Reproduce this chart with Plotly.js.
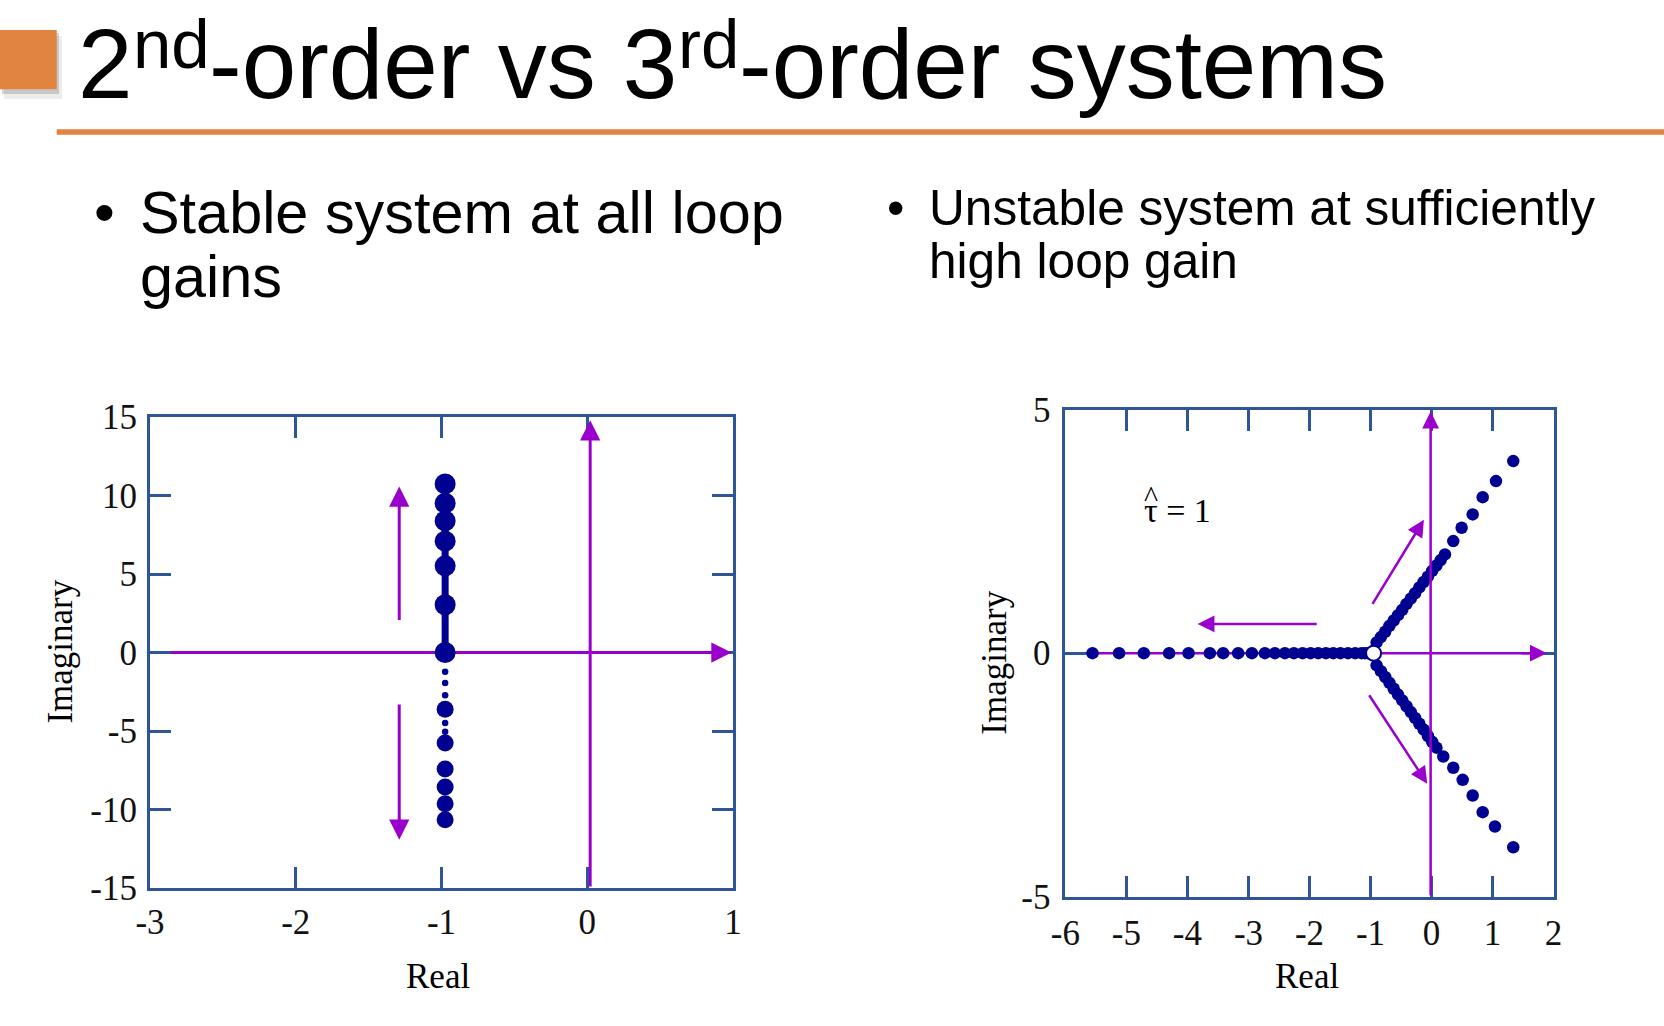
<!DOCTYPE html>
<html><head><meta charset="utf-8">
<script src="https://cdn.plot.ly/plotly-3.0.1.min.js"></script>
<style>html,body{margin:0;padding:0;background:#fff;}#chart{width:1664px;height:1026px;}</style>
</head><body><div id="chart"></div>
<script>
// ---------- Left chart: 2nd-order root locus ----------
const secondOrderBranchReal = -0.975;
const secondOrderUpperImag = [0, 3.04, 5.52, 7.09, 8.38, 9.51, 10.74];
const secondOrderLowerLargeImag = [-3.61, -5.77, -7.42, -8.57, -9.63, -10.65];
const secondOrderLowerSmallImag = [-1.23, -1.95, -2.72, -4.49, -5.05];

// ---------- Right chart: 3rd-order root locus ----------
const thirdOrderRealBranchX = [-5.556, -5.120, -4.715, -4.300, -3.982, -3.633, -3.415, -3.169, -2.944, -2.731,
  -2.567, -2.403, -2.256, -2.113, -1.982, -1.857, -1.731, -1.611, -1.493, -1.370, -1.251, -1.146, -1.09, -1.04];
const thirdOrderUpperX = [-0.90, -0.83, -0.76, -0.69, -0.62, -0.55, -0.48, -0.41, -0.34, -0.27, -0.20, -0.13, -0.06, 0.01, 0.08, 0.15,
  0.220, 0.356, 0.493, 0.674, 0.838, 1.056, 1.339];
const thirdOrderUpperY = [0.22, 0.33, 0.44, 0.56, 0.67, 0.78, 0.89, 1.01, 1.12, 1.23, 1.35, 1.46, 1.57, 1.69, 1.80, 1.91,
  2.027, 2.300, 2.575, 2.848, 3.203, 3.532, 3.943];
const thirdOrderLowerX = [-0.90, -0.83, -0.76, -0.69, -0.62, -0.55, -0.48, -0.41, -0.34, -0.27, -0.20, -0.13, -0.06, 0.01, 0.08,
  0.192, 0.356, 0.510, 0.674, 0.838, 1.039, 1.339];
const thirdOrderLowerY = [-0.25, -0.37, -0.49, -0.61, -0.73, -0.85, -0.97, -1.09, -1.21, -1.33, -1.45, -1.57, -1.70, -1.82, -1.94,
  -2.121, -2.353, -2.600, -2.922, -3.265, -3.559, -3.984];
const thirdOrderBreakX = [-0.95];
const thirdOrderBreakY = [0];

// ---------- Ticks ----------
const leftXTicks = [-3, -2, -1, 0, 1];
const leftYTicks = [-15, -10, -5, 0, 5, 10, 15];
const rightXTicks = [-6, -5, -4, -3, -2, -1, 0, 1, 2];
const rightYTicks = [-5, 0, 5];

// ---------- Purple axes / direction arrows: [tailX, tailY, headX, headY] ----------
const leftRealAxisLine = [[-3, 0.9], [0, 0]];
const leftArrows = [
  [0.75, 0, 0.99, 0],
  [0.02, -15, 0.02, 14.8],
  [-1.29, 1.97, -1.29, 10.57],
  [-1.29, -3.22, -1.29, -11.93]
];
const rightRealAxisLine = [[-6, 1.6], [0, 0]];
const rightArrows = [
  [1.45, 0, 1.89, 0],
  [-0.015, -5, -0.015, 4.96],
  [-1.857, 0.60, -3.834, 0.60],
  [-0.982, 0.979, -0.125, 2.739],
  [-1.038, -0.834, -0.070, -2.682]
];

// ---------- Text ----------
const titlePieces = [['2', false], ['nd', true], ['-order vs 3', false], ['rd', true], ['-order systems', false]];
const leftBullet = ['Stable system at all loop', 'gains'];
const rightBullet = ['Unstable system at sufficiently', 'high loop gain'];
const xTitle = 'Real', yTitle = 'Imaginary';
const tauLabel = 'τ = 1';

// ---------- Styles ----------
const W = 1664, H = 1026;
const px = v => v / W, py = v => 1 - v / H;
const NAVY = '#000091', PURPLE = '#9900CC', FRAME = '#2F5597', ORANGE = '#E0843F';
const serif = 'Liberation Serif, Times New Roman, serif';
const sans = 'Liberation Sans, Arial, sans-serif';
const fmt = v => String(v);

const traces = [
  {x: leftRealAxisLine[0], y: leftRealAxisLine[1], xaxis: 'x', yaxis: 'y', mode: 'lines',
   line: {color: PURPLE, width: 3}, hoverinfo: 'skip'},
  {x: [secondOrderBranchReal, secondOrderBranchReal], y: [0, secondOrderUpperImag[secondOrderUpperImag.length - 1]],
   xaxis: 'x', yaxis: 'y', mode: 'lines', line: {color: NAVY, width: 7}, hoverinfo: 'skip'},
  {x: secondOrderUpperImag.map(() => secondOrderBranchReal), y: secondOrderUpperImag, xaxis: 'x', yaxis: 'y',
   mode: 'markers', marker: {color: NAVY, size: 21, line: {width: 0}}},
  {x: secondOrderLowerLargeImag.map(() => secondOrderBranchReal), y: secondOrderLowerLargeImag, xaxis: 'x', yaxis: 'y',
   mode: 'markers', marker: {color: NAVY, size: 17, line: {width: 0}}},
  {x: secondOrderLowerSmallImag.map(() => secondOrderBranchReal), y: secondOrderLowerSmallImag, xaxis: 'x', yaxis: 'y',
   mode: 'markers', marker: {color: NAVY, size: 6.5, line: {width: 0}}},

  {x: rightRealAxisLine[0], y: rightRealAxisLine[1], xaxis: 'x2', yaxis: 'y2', mode: 'lines',
   line: {color: PURPLE, width: 2.5}, hoverinfo: 'skip'},
  {x: thirdOrderRealBranchX, y: thirdOrderRealBranchX.map(() => 0), xaxis: 'x2', yaxis: 'y2',
   mode: 'markers', marker: {color: NAVY, size: 12.5, line: {width: 0}}},
  {x: thirdOrderUpperX, y: thirdOrderUpperY, xaxis: 'x2', yaxis: 'y2',
   mode: 'markers', marker: {color: NAVY, size: 12.5, line: {width: 0}}},
  {x: thirdOrderLowerX, y: thirdOrderLowerY, xaxis: 'x2', yaxis: 'y2',
   mode: 'markers', marker: {color: NAVY, size: 12.5, line: {width: 0}}},
  {x: thirdOrderBreakX, y: thirdOrderBreakY, xaxis: 'x2', yaxis: 'y2',
   mode: 'markers', marker: {color: '#ffffff', size: 15, line: {color: NAVY, width: 2}}}
];

const axisBase = {
  showgrid: false, zeroline: false, showline: true, mirror: 'ticks', linecolor: FRAME, linewidth: 3,
  ticks: 'inside', ticklen: 21, tickwidth: 3, tickcolor: FRAME, tickmode: 'array',
  tickfont: {family: serif, size: 35, color: '#111'}, fixedrange: true
};

function arrowAnn(a, xr, yr, w) {
  return {xref: xr, yref: yr, axref: xr, ayref: yr, x: a[2], y: a[3], ax: a[0], ay: a[1],
    text: '', showarrow: true, arrowhead: 2, arrowsize: 1.35, arrowwidth: w, arrowcolor: PURPLE, standoff: 0};
}

const annotations = [];
leftArrows.forEach(a => annotations.push(arrowAnn(a, 'x', 'y', 3)));
rightArrows.forEach(a => annotations.push(arrowAnn(a, 'x2', 'y2', 2.5)));

function txt(text, x, y, size, family, xanchor, yanchor, extra) {
  return Object.assign({xref: 'paper', yref: 'paper', x: px(x), y: py(y), text: text, showarrow: false,
    xanchor: xanchor, yanchor: yanchor, borderpad: 0, font: {family: family, size: size, color: '#000'}}, extra || {});
}

// Title built from pieces so the superscripts sit at the reference height
const TITLE_SIZE = 98, SUP_SIZE = 69;
const ctx = document.createElement('canvas').getContext('2d');
let cursor = 77;
titlePieces.forEach(([t, sup]) => {
  const size = sup ? SUP_SIZE : TITLE_SIZE;
  ctx.font = size + 'px "Liberation Sans"';
  const w = ctx.measureText(t).width;
  const baseline = sup ? 69.7 : 99.3;
  annotations.push(txt(t, cursor, baseline + 0.212 * size, size, sans, 'left', 'bottom'));
  cursor += w;
});

annotations.push(txt('•', 93, 247, 59.4, sans, 'left', 'bottom'));
annotations.push(txt(leftBullet[0], 139, 247, 59.4, sans, 'left', 'bottom'));
annotations.push(txt(leftBullet[1], 139, 311, 59.4, sans, 'left', 'bottom'));
annotations.push(txt('•', 886, 237, 49.6, sans, 'left', 'bottom'));
annotations.push(txt(rightBullet[0], 927.5, 237, 49.6, sans, 'left', 'bottom'));
annotations.push(txt(rightBullet[1], 927.5, 290, 49.6, sans, 'left', 'bottom'));
annotations.push(txt(yTitle, 61, 651.6, 35, serif, 'center', 'middle', {textangle: -90}));
annotations.push(txt(yTitle, 995, 662.7, 35, serif, 'center', 'middle', {textangle: -90}));
annotations.push(txt(xTitle, 438, 976, 35, serif, 'center', 'middle'));
annotations.push(txt(xTitle, 1307.4, 976, 35, serif, 'center', 'middle'));
annotations.push({xref: 'x2', yref: 'y2', x: -4.16, y: 2.92, text: tauLabel, showarrow: false, borderpad: 0,
  xanchor: 'center', yanchor: 'middle', font: {family: serif, size: 34, color: '#000'}});
annotations.push({xref: 'x2', yref: 'y2', x: -4.60, y: 3.22, text: '^', showarrow: false, borderpad: 0,
  xanchor: 'center', yanchor: 'middle', font: {family: serif, size: 30, color: '#000'}});

const shapes = [
  {type: 'rect', xref: 'paper', yref: 'paper', x0: px(4), x1: px(62), y0: py(36), y1: py(99),
   fillcolor: 'rgba(0,0,0,0.07)', line: {width: 0}, layer: 'below'},
  {type: 'rect', xref: 'paper', yref: 'paper', x0: px(2), x1: px(59), y0: py(33), y1: py(94),
   fillcolor: 'rgba(0,0,0,0.16)', line: {width: 0}, layer: 'below'},
  {type: 'rect', xref: 'paper', yref: 'paper', x0: px(0), x1: px(56.7), y0: py(30), y1: py(89.3),
   fillcolor: ORANGE, line: {width: 0}, layer: 'above'},
  {type: 'line', xref: 'paper', yref: 'paper', x0: px(56.7), x1: 1, y0: py(132), y1: py(132),
   line: {color: ORANGE, width: 5.5}}
];

const layout = {
  width: W, height: H, margin: {l: 0, r: 0, t: 0, b: 0}, showlegend: false,
  paper_bgcolor: '#fff', plot_bgcolor: '#fff', hovermode: false,
  xaxis: Object.assign({}, axisBase, {domain: [px(150), px(733)], range: [-3, 1], anchor: 'y',
    tickvals: leftXTicks, ticktext: leftXTicks.map(fmt), ticklabelstandoff: 1}),
  yaxis: Object.assign({}, axisBase, {domain: [py(888), py(417)], range: [-15, 15], anchor: 'x',
    tickvals: leftYTicks, ticktext: leftYTicks.map(fmt), ticklabelstandoff: 3}),
  xaxis2: Object.assign({}, axisBase, {domain: [px(1065.4), px(1553.6)], range: [-6, 2], anchor: 'y2',
    tickvals: rightXTicks, ticktext: rightXTicks.map(fmt), ticklabelstandoff: 3}),
  yaxis2: Object.assign({}, axisBase, {domain: [py(896.7), py(409.6)], range: [-5, 5], anchor: 'x2',
    tickvals: rightYTicks, ticktext: rightYTicks.map(fmt), ticklabelstandoff: 5}),
  annotations: annotations, shapes: shapes
};

Plotly.newPlot('chart', traces, layout, {staticPlot: true, displayModeBar: false});
</script></body></html>
